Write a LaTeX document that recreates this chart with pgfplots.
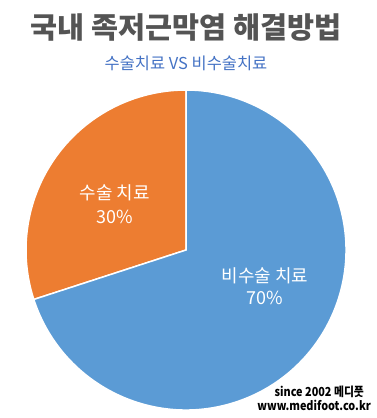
\documentclass[border=0pt]{standalone}
\usepackage{fontspec}
\setmainfont{Noto Sans CJK KR}
\usepackage{pgfplots}
\usepackage{pgfplotstable}
\pgfplotsset{compat=1.18}
\definecolor{pieblue}{RGB}{91,155,213}
\definecolor{pieorange}{RGB}{237,125,49}
\definecolor{titlegray}{RGB}{84,84,84}
\definecolor{subblue}{RGB}{68,114,196}
\pgfplotstableread{
label value
surgery 30
nonsurgery 70
}\piedata
\begin{document}
\begin{tikzpicture}[x=1bp,y=1bp]
\path[use as bounding box] (0,0) rectangle (377,-418);
\pgfplotstablegetelem{0}{value}\of\piedata \let\vA\pgfplotsretval
\pgfplotstablegetelem{1}{value}\of\piedata \let\vB\pgfplotsretval
\pgfmathsetmacro\aA{90+3.6*\vA}
\pgfmathsetmacro\aB{\aA+3.6*\vB}
\begin{axis}[hide axis, x=160bp, y=160bp, xmin=-1, xmax=1, ymin=-1, ymax=1,
  anchor=origin, at={(186bp,-250bp)}, clip=false]
\filldraw[fill=pieorange, draw=white, line width=1.5bp] (axis cs:0,0) -- (axis cs:0,1) arc[start angle=90, end angle=\aA, radius=160bp] -- cycle;
\filldraw[fill=pieblue, draw=white, line width=1.5bp] (axis cs:0,0) -- (axis cs:{cos(\aA)},{sin(\aA)}) arc[start angle=\aA, end angle=\aB, radius=160bp] -- cycle;
\end{axis}
\node[text=titlegray, font=\fontsize{29.5}{34}\selectfont\bfseries] at (186,-28) {국내 족저근막염 해결방법};
\node[text=subblue, font=\fontsize{16.5}{20}\selectfont] at (186,-63) {수술치료 VS 비수술치료};
\node[text=white, font=\fontsize{18}{22}\selectfont] at (115,-193) {수술 치료};
\node[text=white, font=\fontsize{18}{22}\selectfont] at (115,-217) {\vA\%};
\node[text=white, font=\fontsize{18}{22}\selectfont] at (265,-276) {비수술 치료};
\node[text=white, font=\fontsize{18}{22}\selectfont] at (265,-298) {\vB\%};
\node[anchor=east, xscale=0.87, transform shape, text=black, font=\fontsize{12.5}{14}\selectfont\bfseries] at (367,-392) {since 2002 메디풋};
\node[anchor=east, xscale=0.87, transform shape, text=black, font=\fontsize{12.5}{14}\selectfont\bfseries] at (374,-405) {www.medifoot.co.kr};
\end{tikzpicture}
\end{document}
